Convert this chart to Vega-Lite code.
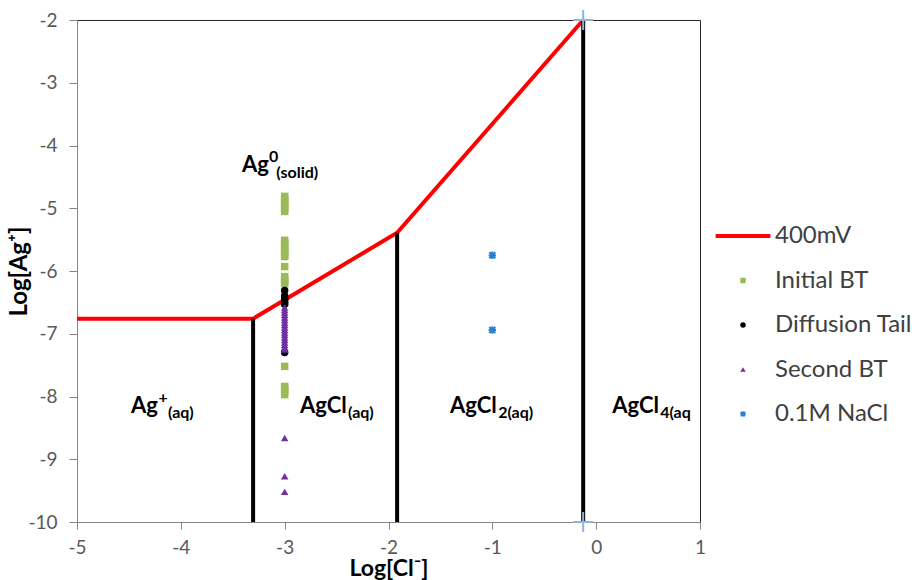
{
  "$schema": "https://vega.github.io/schema/vega-lite/v6.json",
  "width": 623,
  "height": 502,
  "autosize": {"type": "none"},
  "padding": {"left": 77, "top": 20, "right": 217, "bottom": 58},
  "background": "white",
  "config": {
    "font": "Lato",
    "view": {"stroke": "#262626", "strokeWidth": 1},
    "axis": {
      "grid": false,
      "domainColor": "#868686",
      "tickColor": "#868686",
      "labelColor": "#595959",
      "labelFont": "Lato",
      "labelFontSize": 19,
      "labelFlush": false,
      "titleFont": "Lato",
      "titleFontSize": 24,
      "titleFontWeight": "bold",
      "titleColor": "#000000",
      "zindex": 1
    }
  },
  "datasets": {
    "phase": [
      {"x": -5, "y": -6.76},
      {"x": -3.304, "y": -6.76},
      {"x": -1.917, "y": -5.39},
      {"x": -0.125, "y": -2}
    ],
    "bounds": [
      {"x": -3.304, "y": -6.76, "y2": -10},
      {"x": -1.917, "y": -5.39, "y2": -10},
      {"x": -0.125, "y": -2, "y2": -10}
    ],
    "ends": [
      {"x": -0.125, "y": -2},
      {"x": -0.125, "y": -10}
    ],
    "points": [
      {"series": "Initial BT", "x": -3, "y": -4.81},
      {"series": "Initial BT", "x": -3, "y": -4.85},
      {"series": "Initial BT", "x": -3, "y": -4.89},
      {"series": "Initial BT", "x": -3, "y": -4.93},
      {"series": "Initial BT", "x": -3, "y": -4.97},
      {"series": "Initial BT", "x": -3, "y": -5.01},
      {"series": "Initial BT", "x": -3, "y": -5.05},
      {"series": "Initial BT", "x": -3, "y": -5.51},
      {"series": "Initial BT", "x": -3, "y": -5.55},
      {"series": "Initial BT", "x": -3, "y": -5.59},
      {"series": "Initial BT", "x": -3, "y": -5.63},
      {"series": "Initial BT", "x": -3, "y": -5.67},
      {"series": "Initial BT", "x": -3, "y": -5.71},
      {"series": "Initial BT", "x": -3, "y": -5.75},
      {"series": "Initial BT", "x": -3, "y": -5.77},
      {"series": "Initial BT", "x": -3, "y": -5.93},
      {"series": "Initial BT", "x": -3, "y": -6.09},
      {"series": "Initial BT", "x": -3, "y": -6.13},
      {"series": "Initial BT", "x": -3, "y": -6.17},
      {"series": "Initial BT", "x": -3, "y": -6.2},
      {"series": "Initial BT", "x": -3, "y": -7.52},
      {"series": "Initial BT", "x": -3, "y": -7.84},
      {"series": "Initial BT", "x": -3, "y": -7.88},
      {"series": "Initial BT", "x": -3, "y": -7.92},
      {"series": "Initial BT", "x": -3, "y": -7.97},
      {"series": "Diffusion Tail", "x": -3, "y": -6.31},
      {"series": "Diffusion Tail", "x": -3, "y": -6.4},
      {"series": "Diffusion Tail", "x": -3, "y": -6.44},
      {"series": "Diffusion Tail", "x": -3, "y": -6.47},
      {"series": "Diffusion Tail", "x": -3, "y": -6.5},
      {"series": "Diffusion Tail", "x": -3, "y": -6.53},
      {"series": "Diffusion Tail", "x": -3, "y": -7.3},
      {"series": "Second BT", "x": -3, "y": -6.58},
      {"series": "Second BT", "x": -3, "y": -6.62},
      {"series": "Second BT", "x": -3, "y": -6.66},
      {"series": "Second BT", "x": -3, "y": -6.7},
      {"series": "Second BT", "x": -3, "y": -6.74},
      {"series": "Second BT", "x": -3, "y": -6.78},
      {"series": "Second BT", "x": -3, "y": -6.82},
      {"series": "Second BT", "x": -3, "y": -6.86},
      {"series": "Second BT", "x": -3, "y": -6.9},
      {"series": "Second BT", "x": -3, "y": -6.94},
      {"series": "Second BT", "x": -3, "y": -6.98},
      {"series": "Second BT", "x": -3, "y": -7.02},
      {"series": "Second BT", "x": -3, "y": -7.06},
      {"series": "Second BT", "x": -3, "y": -7.1},
      {"series": "Second BT", "x": -3, "y": -7.14},
      {"series": "Second BT", "x": -3, "y": -7.18},
      {"series": "Second BT", "x": -3, "y": -7.22},
      {"series": "Second BT", "x": -3, "y": -7.25},
      {"series": "Second BT", "x": -3, "y": -8.66},
      {"series": "Second BT", "x": -3, "y": -9.27},
      {"series": "Second BT", "x": -3, "y": -9.52},
      {"series": "0.1M NaCl", "x": -1, "y": -5.75},
      {"series": "0.1M NaCl", "x": -1, "y": -6.94}
    ],
    "labels": [
      {"kind": "main", "t": "Ag", "x": -4.48, "y": -8.263},
      {"kind": "sub", "t": "+", "x": -4.215, "y": -8.1},
      {"kind": "sub", "t": "(aq)", "x": -4.123, "y": -8.343},
      {"kind": "main", "t": "AgCl", "x": -2.852, "y": -8.263},
      {"kind": "sub", "t": "(aq)", "x": -2.389, "y": -8.343},
      {"kind": "main", "t": "AgCl", "x": -1.407, "y": -8.263},
      {"kind": "sub", "t": "2(aq)", "x": -0.944, "y": -8.343},
      {"kind": "main", "t": "AgCl", "x": 0.154, "y": -8.263},
      {"kind": "sub", "t": "4(aq", "x": 0.617, "y": -8.343},
      {"kind": "main", "t": "Ag", "x": -3.41, "y": -4.422},
      {"kind": "sub", "t": "0", "x": -3.15, "y": -4.27},
      {"kind": "sub", "t": "(solid)", "x": -3.08, "y": -4.518}
    ]
  },
  "layer": [
    {
      "data": {"name": "phase"},
      "mark": {"type": "line", "color": "#ff0000", "strokeWidth": 4},
      "encoding": {
        "x": {
          "field": "x", "type": "quantitative",
          "scale": {"domain": [-5, 1], "nice": false, "zero": false},
          "axis": {
            "values": [-5, -4, -3, -2, -1, 0, 1],
            "tickSize": 7, "labelPadding": 9,
            "title": "Log[Cl⁻]", "titlePadding": 0, "titleFontSize": 23,
            "labelExpr": "toString(datum.value)"
          }
        },
        "y": {
          "field": "y", "type": "quantitative",
          "scale": {"domain": [-10, -2], "nice": false, "zero": false},
          "axis": {
            "values": [-10, -9, -8, -7, -6, -5, -4, -3, -2],
            "tickSize": 8, "labelPadding": 12,
            "title": "Log[Ag⁺]", "titlePadding": -4,
            "labelExpr": "toString(datum.value)"
          }
        }
      }
    },
    {
      "data": {"name": "bounds"},
      "mark": {"type": "rule", "color": "#000000", "strokeWidth": 4},
      "encoding": {
        "x": {"field": "x", "type": "quantitative"},
        "y": {"field": "y", "type": "quantitative"},
        "y2": {"field": "y2"}
      }
    },
    {
      "data": {"name": "points"},
      "mark": {"type": "point", "filled": true, "opacity": 1, "size": 56},
      "encoding": {
        "x": {"field": "x", "type": "quantitative"},
        "y": {"field": "y", "type": "quantitative"},
        "color": {
          "field": "series", "type": "nominal",
          "scale": {
            "domain": ["400mV", "Initial BT", "Diffusion Tail", "Second BT", "0.1M NaCl"],
            "range": ["#ff0000", "#9bbb59", "#000000", "#7030a0", "#2a7fd4"]
          },
          "legend": {
            "title": null, "orient": "none", "legendX": 654, "legendY": 204,
            "padding": 0, "symbolSize": 30, "labelFontSize": 24, "labelColor": "#404040",
            "labelFont": "Lato", "labelOffset": 20, "rowPadding": 20.5,
            "symbolStrokeWidth": 0
          }
        },
        "shape": {
          "field": "series", "type": "nominal",
          "scale": {
            "domain": ["400mV", "Initial BT", "Diffusion Tail", "Second BT", "0.1M NaCl"],
            "range": [
              "M-10,-0.72L10,-0.72L10,0.72L-10,0.72Z",
              "square",
              "circle",
              "triangle-up",
              "M-1,-0.6L-0.6,-1L0,-0.4L0.6,-1L1,-0.6L0.4,0L1,0.6L0.6,1L0,0.4L-0.6,1L-1,0.6L-0.4,0ZM-0.25,-1L0.25,-1L0.25,-0.25L1,-0.25L1,0.25L0.25,0.25L0.25,1L-0.25,1L-0.25,0.25L-1,0.25L-1,-0.25L-0.25,-0.25Z"
            ]
          },
          "legend": {
            "title": null, "orient": "none", "legendX": 654, "legendY": 204,
            "padding": 0, "symbolSize": 30, "labelFontSize": 24, "labelColor": "#404040",
            "labelFont": "Lato", "labelOffset": 20, "rowPadding": 20.5,
            "symbolStrokeWidth": 0
          }
        }
      }
    },
    {
      "data": {"name": "ends"},
      "mark": {"type": "point", "shape": "M-1,0L1,0M0,-1L0,1", "filled": false, "size": 400, "stroke": "#95b3d7", "strokeWidth": 2, "opacity": 1},
      "encoding": {
        "x": {"field": "x", "type": "quantitative"},
        "y": {"field": "y", "type": "quantitative"}
      }
    },
    {
      "data": {"name": "labels"},
      "transform": [{"filter": "datum.kind === 'main'"}],
      "mark": {"type": "text", "align": "left", "baseline": "alphabetic", "font": "Lato", "fontWeight": "bold", "fontSize": 22, "color": "#000000"},
      "encoding": {
        "x": {"field": "x", "type": "quantitative"},
        "y": {"field": "y", "type": "quantitative"},
        "text": {"field": "t"}
      }
    },
    {
      "data": {"name": "labels"},
      "transform": [{"filter": "datum.kind === 'sub'"}],
      "mark": {"type": "text", "align": "left", "baseline": "alphabetic", "font": "Lato", "fontWeight": "bold", "fontSize": 16, "color": "#000000"},
      "encoding": {
        "x": {"field": "x", "type": "quantitative"},
        "y": {"field": "y", "type": "quantitative"},
        "text": {"field": "t"}
      }
    }
  ]
}
